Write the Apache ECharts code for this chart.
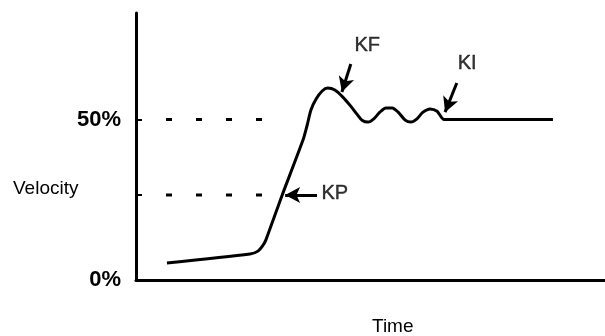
<!DOCTYPE html>
<html>
<head>
<meta charset="utf-8">
<script src="https://cdn.jsdelivr.net/npm/echarts@6/dist/echarts.min.js"></script>
<style>
  html, body { margin: 0; padding: 0; background: #fff; }
  #chart { width: 605px; height: 336px; }
</style>
</head>
<body>
<div id="chart"></div>
<script>
// step response (time in % of axis, velocity in %)
var timeVals = [6.6, 24.3, 26.0, 27.1, 27.7, 31.1, 35.6, 36.5, 37.3, 38.4, 39.7, 40.9, 42.4, 44.1,
  45.6, 47.1, 48.2, 49.5, 50.7, 52.0, 53.3, 54.6, 55.9, 57.4, 58.6, 59.9, 61.2, 62.7, 64.2, 65.7, 88.9];
var velocityVals = [5.3, 8.1, 9.0, 10.9, 12.5, 26.2, 43.6, 48.3, 53.0, 56.4, 58.9, 59.8, 59.2, 57.0,
  54.5, 51.7, 49.8, 49.2, 50.2, 52.3, 53.6, 53.6, 52.3, 49.8, 49.2, 50.2, 52.3, 53.3, 52.6, 50, 50];

// dashed reference levels
var refLevels = [50, 26.5];
var refFrom = 6.4, refTo = 26.9;

var yLabelVals = [0, 50];
var yTickVals = [26.5, 50];

// annotations: name, arrow tail, arrow tip, label position
var notes = [
  { name: 'KF', tail: [45.8, 67.3], tip: [43.9, 58.6], at: [49.3, 73.2] },
  { name: 'KI', tail: [68.4, 61.4], tip: [65.9, 52.3], at: [70.6, 67.6] },
  { name: 'KP', tail: [38.6, 26.5], tip: [31.8, 26.5], at: [42.4, 27.1] }
];

var chart = echarts.init(document.getElementById('chart'));

var curve = timeVals.map(function (t, i) { return [t, velocityVals[i]]; });

var series = [
  {
    type: 'line',
    data: curve,
    smooth: 0.25,
    showSymbol: false,
    lineStyle: { color: '#000', width: 3 },
    markLine: {
      silent: true,
      symbol: ['none', 'arrow'],
      symbolSize: [12, 15],
      label: { show: false },
      lineStyle: { color: '#000', width: 3, type: 'solid' },
      data: notes.map(function (n) {
        return [{ coord: n.tail }, { coord: n.tip }];
      })
    }
  },
  {
    type: 'scatter',
    symbolSize: 0,
    data: notes.map(function (n) { return { value: n.at, name: n.name }; }),
    label: {
      show: true,
      position: 'inside',
      formatter: '{b}',
      color: '#000',
      fontSize: 20,
      fontFamily: 'Liberation Sans',
      textBorderColor: '#000',
      textBorderWidth: 0.4
    }
  }
];

refLevels.forEach(function (v) {
  series.push({
    type: 'line',
    data: [[refFrom, v], [refTo, v]],
    showSymbol: false,
    lineStyle: { color: '#000', width: 3, type: [6, 24] }
  });
});

var option = {
  animation: false,
  grid: { left: 136, right: 0, top: 13, bottom: 56 },
  xAxis: {
    type: 'value',
    min: 0,
    max: 100,
    axisLine: { lineStyle: { color: '#000', width: 3 } },
    axisTick: { show: false },
    axisLabel: { show: false },
    splitLine: { show: false }
  },
  yAxis: {
    type: 'value',
    min: 0,
    max: 83.2,
    axisLine: { show: true, lineStyle: { color: '#000', width: 3 } },
    axisTick: {
      show: true,
      inside: true,
      length: 6,
      customValues: yTickVals,
      lineStyle: { color: '#000', width: 2 }
    },
    axisLabel: {
      customValues: yLabelVals,
      formatter: '{value}%',
      margin: 15,
      color: '#000',
      fontSize: 22,
      fontWeight: 'bold',
      fontFamily: 'Liberation Sans'
    },
    splitLine: { show: false }
  },
  graphic: [
    {
      type: 'text',
      left: 13,
      top: 179,
      style: { text: 'Velocity', fill: '#000', fontSize: 19, fontFamily: 'Liberation Sans' }
    },
    {
      type: 'text',
      left: 372,
      top: 317,
      style: { text: 'Time', fill: '#000', fontSize: 19, fontFamily: 'Liberation Sans' }
    }
  ],
  series: series
};

chart.setOption(option);
</script>
</body>
</html>
